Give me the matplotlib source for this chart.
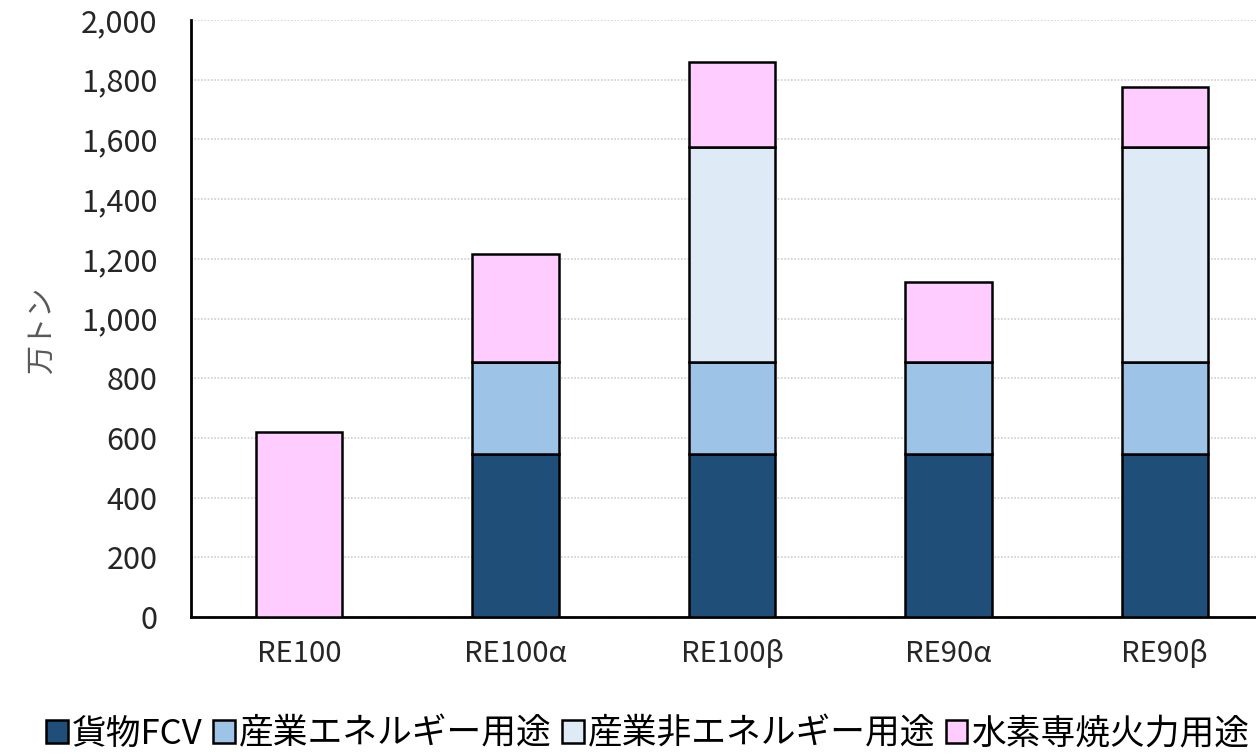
import numpy as np
import matplotlib.pyplot as plt
from matplotlib.ticker import FuncFormatter

plt.rcParams['font.family'] = ['Liberation Sans Narrow', 'Noto Sans CJK JP', 'DejaVu Sans']

scenarios = ['RE100', 'RE100α', 'RE100β', 'RE90α', 'RE90β']
freight_fcv = [0, 545, 545, 545, 545]
industry_energy = [0, 310, 310, 310, 310]
industry_non_energy = [0, 0, 720, 0, 720]
h2_power = [620, 360, 285, 268, 200]

series_names = ['貨物FCV', '産業エネルギー用途', '産業非エネルギー用途', '水素専焼火力用途']
colors = ['#1F4E79', '#9DC3E6', '#DEEBF7', '#FFCCFF']

fig = plt.figure(figsize=(12.56, 7.54), dpi=100)
ax = fig.add_axes([191 / 1256, 137 / 754, 1082 / 1256, 597 / 754])

x = np.arange(len(scenarios))
bottom = np.zeros(len(scenarios))
for vals, name, c in zip([freight_fcv, industry_energy, industry_non_energy, h2_power],
                         series_names, colors):
    vals = np.array(vals, dtype=float)
    ax.bar(x, vals, width=0.4, bottom=bottom, color=c, edgecolor='black',
           linewidth=1.8, label=name, zorder=3)
    bottom += vals

ax.set_xlim(-0.5, 4.5)
ax.set_ylim(0, 2000)
ax.set_yticks(np.arange(0, 2001, 200))
ax.yaxis.set_major_formatter(FuncFormatter(lambda v, p: f'{int(v):,}'))
ax.set_xticks(x)
ax.set_xticklabels(scenarios)
ax.grid(axis='y', color='#D0D0D0', linewidth=1.2, linestyle=(0, (1, 1)), zorder=0)

for s in ['top', 'right']:
    ax.spines[s].set_visible(False)
ax.spines['left'].set_linewidth(2)
ax.spines['bottom'].set_linewidth(2)
ax.tick_params(axis='y', length=0, labelsize=22, labelcolor='#262626', pad=24)
ax.tick_params(axis='x', length=0, labelsize=21, labelcolor='#262626', pad=16)

fig.text(42 / 1256, 1 - 330 / 754, '万トン', rotation=90, fontsize=21,
         color='#595959', ha='center', va='center')

fig.legend(loc='center', bbox_to_anchor=(648 / 1256, 1 - 734 / 754), ncol=4,
           frameon=False, fontsize=25, handlelength=0.62, handleheight=0.62,
           handletextpad=0.12, columnspacing=0.3, borderaxespad=0)

fig.savefig('out.png', dpi=100)
